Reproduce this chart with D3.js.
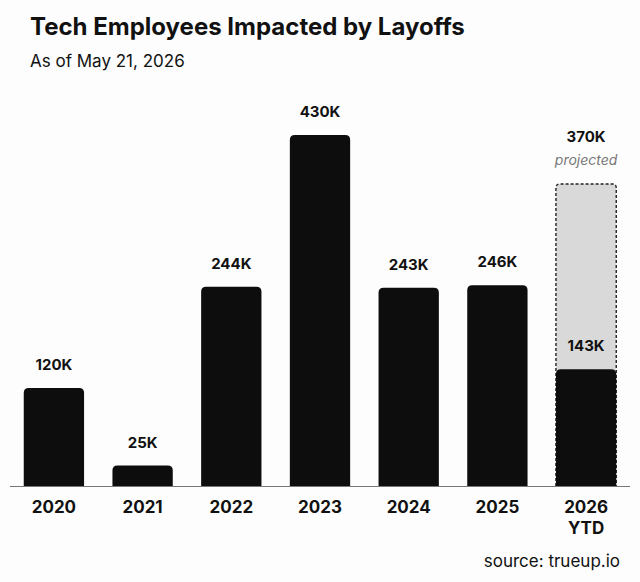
<!DOCTYPE html>
<html>
<head>
<meta charset="utf-8">
<script src="https://cdn.jsdelivr.net/npm/d3@7"></script>
<style>
  body { margin: 0; background: #fff; }
  text { font-family: Inter, "Noto Sans", sans-serif; }
</style>
</head>
<body>
<div class="chart"></div>
<script>
var svgWidth = 640;
var svgHeight = 582;

var years = ["2020", "2021", "2022", "2023", "2024", "2025", "2026"];
var tickLabels = [["2020"], ["2021"], ["2022"], ["2023"], ["2024"], ["2025"], ["2026", "YTD"]];
var impacted = [120, 25, 244, 430, 243, 246, 143];
var valueLabels = ["120K", "25K", "244K", "430K", "243K", "246K", "143K"];
var projectedYear = "2026";
var projectedValue = 370;
var projectedLabel = "370K";

var baseY = 486;

var svg = d3.select(".chart")
  .append("svg")
  .attr("width", svgWidth)
  .attr("height", svgHeight);

svg.append("rect")
  .attr("width", svgWidth)
  .attr("height", svgHeight)
  .attr("fill", "#fdfdfd");

var x = d3.scaleBand()
  .domain(years)
  .range([10, 630])
  .paddingInner(0.32)
  .paddingOuter(0.155);

var y = d3.scaleLinear()
  .domain([0, 430])
  .range([baseY, 135]);

// bar with rounded top corners only
function topRounded(x0, y0, w, h, r) {
  r = Math.min(r, h);
  return "M" + x0 + "," + (y0 + h) +
    "V" + (y0 + r) +
    "Q" + x0 + "," + y0 + " " + (x0 + r) + "," + y0 +
    "H" + (x0 + w - r) +
    "Q" + (x0 + w) + "," + y0 + " " + (x0 + w) + "," + (y0 + r) +
    "V" + (y0 + h) + "Z";
}

// projected box for 2026
var px = x(projectedYear);
svg.append("path")
  .attr("d", topRounded(px, y(projectedValue), x.bandwidth(), y(0) - y(projectedValue), 4))
  .attr("fill", "#d9d9d9")
  .attr("stroke", "#222")
  .attr("stroke-width", 1.4)
  .attr("stroke-dasharray", "3,2");

svg.selectAll(".bar")
  .data(impacted)
  .enter()
  .append("path")
  .attr("class", "bar")
  .attr("d", (d, i) => topRounded(x(years[i]), y(d), x.bandwidth(), y(0) - y(d), 5))
  .attr("fill", "#0d0d0d");

svg.selectAll(".val")
  .data(impacted)
  .enter()
  .append("text")
  .attr("class", "val")
  .attr("x", (d, i) => x(years[i]) + x.bandwidth() / 2)
  .attr("y", d => y(d) - 18)
  .attr("text-anchor", "middle")
  .attr("font-size", "15px")
  .attr("font-weight", 700)
  .attr("fill", "#111")
  .text((d, i) => valueLabels[i]);

svg.append("text")
  .attr("x", px + x.bandwidth() / 2)
  .attr("y", y(projectedValue) - 42)
  .attr("text-anchor", "middle")
  .attr("font-size", "15px")
  .attr("font-weight", 700)
  .attr("fill", "#111")
  .text(projectedLabel);

svg.append("text")
  .attr("x", px + x.bandwidth() / 2)
  .attr("y", y(projectedValue) - 19)
  .attr("text-anchor", "middle")
  .attr("font-size", "14px")
  .attr("font-style", "italic")
  .attr("fill", "#777")
  .text("projected");

// axis
svg.append("line")
  .attr("x1", 10)
  .attr("x2", 630)
  .attr("y1", baseY + 0.5)
  .attr("y2", baseY + 0.5)
  .attr("stroke", "#777")
  .attr("stroke-width", 1);

var ticks = svg.selectAll(".tick")
  .data(years)
  .enter()
  .append("text")
  .attr("class", "tick")
  .attr("x", d => x(d) + x.bandwidth() / 2)
  .attr("y", 513)
  .attr("text-anchor", "middle")
  .attr("font-size", "17px")
  .attr("font-weight", 700)
  .attr("fill", "#111");

ticks.each(function (d, i) {
  var t = d3.select(this);
  tickLabels[i].forEach(function (s, j) {
    t.append("tspan")
      .attr("x", x(d) + x.bandwidth() / 2)
      .attr("dy", j === 0 ? 0 : 21)
      .text(s);
  });
});

svg.append("text")
  .attr("x", 30)
  .attr("y", 35)
  .attr("font-size", "24px")
  .attr("font-weight", 700)
  .attr("fill", "#111")
  .text("Tech Employees Impacted by Layoffs");

svg.append("text")
  .attr("x", 30)
  .attr("y", 67)
  .attr("font-size", "17px")
  .attr("fill", "#111")
  .text("As of May 21, 2026");

svg.append("text")
  .attr("x", 620)
  .attr("y", 567)
  .attr("text-anchor", "end")
  .attr("font-size", "17px")
  .attr("fill", "#111")
  .text("source: trueup.io");
</script>
</body>
</html>
